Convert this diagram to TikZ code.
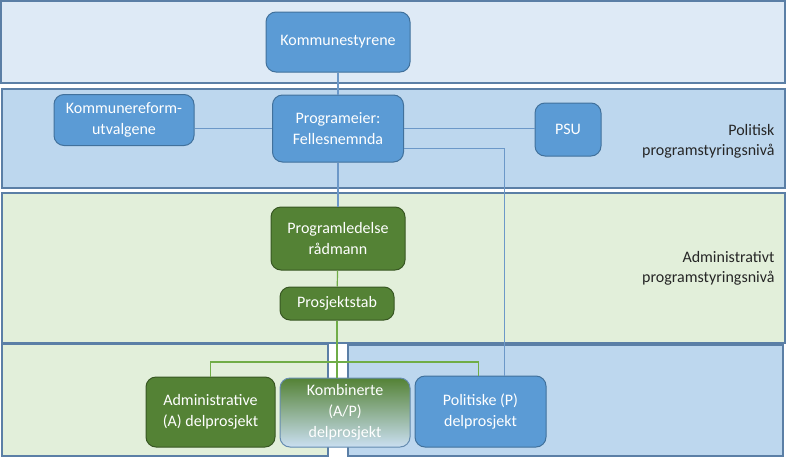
\documentclass[tikz,border=0pt]{standalone}
\usepackage{fontspec}
\setmainfont{Carlito}
\usetikzlibrary{positioning}
\definecolor{bandtop}{HTML}{DEEAF6}
\definecolor{bandblue}{HTML}{BDD7EE}
\definecolor{bandgreen}{HTML}{E2EFDA}
\definecolor{bandline}{HTML}{5B7FA6}
\definecolor{nodeblue}{HTML}{5B9BD5}
\definecolor{darkblue}{HTML}{41719C}
\definecolor{nodegreen}{HTML}{548235}
\definecolor{darkgreen}{HTML}{385723}
\definecolor{linegreen}{HTML}{70AD47}
\definecolor{lineblue}{HTML}{6C98C8}

\begin{document}
\begin{tikzpicture}[x=1pt,y=-1pt]
    % Stiler for boksene
    \tikzset{
        band/.style={
            draw=bandline, % Kantlinje
            line width=1.3pt
        },
        blue_box/.style={
            draw=darkblue, % Kantlinje
            fill=nodeblue, % Bakgrunn
            text=white,
            line width=1pt,
            rounded corners=10pt,
            align=center, % Midtstilt tekst
            font=\fontsize{16}{21}\selectfont
        },
        green_box/.style={
            draw=darkgreen, % Kantlinje
            fill=nodegreen, % Bakgrunn
            text=white,
            line width=1pt,
            rounded corners=10pt,
            align=center, % Midtstilt tekst
            font=\fontsize{16}{21}\selectfont
        },
        level_label/.style={
            text=black!85,
            align=right,
            anchor=east,
            font=\fontsize{16}{20}\selectfont
        },
        blue_line/.style={draw=lineblue, line width=1.2pt},
        green_line/.style={draw=linegreen, line width=1.2pt}
    }

    \useasboundingbox (0,0) rectangle (791,458);

    % Nivaaene
    \draw[band, fill=bandtop] (1,1) rectangle (785,83);
    \draw[band, fill=bandblue] (2,89) rectangle (785,188);
    \draw[band, fill=bandgreen] (2,193) rectangle (785,343);
    \draw[band, fill=bandgreen] (2,344) rectangle (328,456);
    \draw[band, fill=bandblue] (348,345) rectangle (783,456);

    % Politisk nivaa
    \node[blue_box, minimum width=144pt, minimum height=60pt] (kommune) at (338,42) {Kommunestyrene};
    \node[blue_box, minimum width=140pt, minimum height=51pt] (utvalg) at (124,120) {Kommunereform-\\utvalgene};
    \node[blue_box, minimum width=131pt, minimum height=67pt] (eier) at (338,128.5) {Programeier:\\Fellesnemnda};
    \node[blue_box, minimum width=66pt, minimum height=53pt] (psu) at (568,129.5) {PSU};

    % Administrativt nivaa
    \node[green_box, minimum width=134pt, minimum height=63pt] (ledelse) at (338,238.5) {Programledelse\\rådmann};
    \node[green_box, minimum width=114pt, minimum height=33pt] (stab) at (337,303.5) {Prosjektstab};

    % Delprosjekter
    \node[green_box, minimum width=129pt, minimum height=70pt] (admin) at (210.5,412) {Administrative\\(A) delprosjekt};
    \node[blue_box, draw=darkblue!80, top color=nodegreen, middle color=bandblue!90!white, bottom color=bandblue!80!white, minimum width=130pt, minimum height=69pt] (kombi) at (345,412.5) {Kombinerte\\(A/P)\\delprosjekt};
    \node[blue_box, minimum width=131pt, minimum height=71pt] (politisk) at (480.5,411.5) {Politiske (P)\\delprosjekt};

    % Tekst til hoeyre
    \node[level_label] (niva1) at (778,141) {Politisk\\programstyringsnivå};
    \node[level_label] (niva2) at (778,268) {Administrativt\\programstyringsnivå};

    % Linjer
    \draw[blue_line] (kommune) -- (eier);
    \draw[blue_line] (eier.west) -- (eier.west -| utvalg.east);
    \draw[blue_line] (eier.east) -- (eier.east -| psu.west);
    \draw[blue_line] ([yshift=-20pt]eier.east) -| ([xshift=24pt]politisk.north);
    \draw[blue_line] (eier) -- (ledelse);
    \draw[green_line] (ledelse) -- (stab);
    \coordinate (fork) at (337,362);
    \draw[green_line] (stab) -- (fork -| stab) -- (kombi.north -| stab);
    \draw[green_line] (admin.north) |- (fork) -| ([xshift=-2pt]politisk.north);

\end{tikzpicture}
\end{document}
